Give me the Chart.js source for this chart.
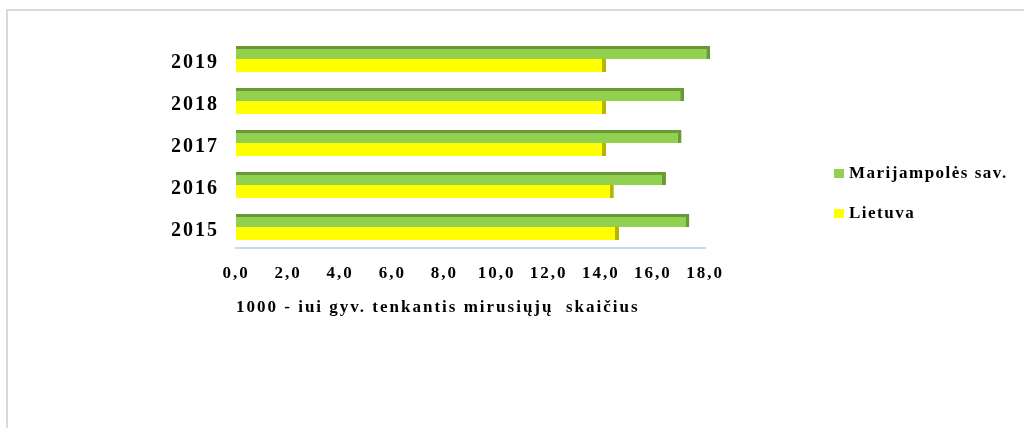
<!DOCTYPE html>
<html>
<head>
<meta charset="utf-8">
<script src="https://cdn.jsdelivr.net/npm/chart.js@4.4.1/dist/chart.umd.min.js"></script>
<style>
  html, body { margin: 0; padding: 0; background: #fff; }
  #wrap { position: relative; width: 1024px; height: 428px; overflow: hidden; }
  #frame { position: absolute; left: 6px; top: 9px; width: 1100px; height: 500px;
           border-top: 2px solid #d9d9d9; border-left: 2px solid #d9d9d9; }
  #chart { position: absolute; left: 0; top: 0; }
  #legend { position: absolute; left: 834px; top: 163px; font-family: 'Liberation Serif', 'Times New Roman', serif;
            font-weight: bold; font-size: 17px; letter-spacing: 1.5px; color: #000; }
  .item { position: relative; height: 20px; line-height: 20px; margin-bottom: 20px; white-space: nowrap; }
  .box { position: absolute; left: 0; top: 6px; width: 10px; height: 9px; }
  .lbl { position: absolute; left: 15px; top: 0; }
</style>
</head>
<body>
<div id="wrap">
  <div id="frame"></div>
  <canvas id="chart" width="1024" height="428"></canvas>
  <div id="legend"></div>
</div>
<script>
const years = ['2015', '2016', '2017', '2018', '2019'];
const marijampole = [17.4, 16.5, 17.1, 17.2, 18.2];
const lietuva = [14.7, 14.5, 14.2, 14.2, 14.2];
const xTickLabels = ['0,0', '2,0', '4,0', '6,0', '8,0', '10,0', '12,0', '14,0', '16,0', '18,0'];
const seriesNames = ['Marijampolės sav.', 'Lietuva'];
const xTitle = '1000 - iui gyv. tenkantis mirusiųjų  skaičius';

const FONT = "'Liberation Serif', 'Times New Roman', serif";

const spacingPlugin = {
  id: 'spacing',
  beforeLayout(chart) { chart.ctx.letterSpacing = '2px'; },
  beforeDraw(chart) { chart.ctx.letterSpacing = '2px'; }
};

const colors = [
  { bg: '#92D050', border: '#6A9A36' },
  { bg: '#FFFF00', border: '#B5B500' }
];

new Chart(document.getElementById('chart'), {
  type: 'bar',
  data: {
    labels: years,
    datasets: [
      {
        label: seriesNames[0], data: marijampole,
        backgroundColor: colors[0].bg, borderColor: colors[0].border,
        borderWidth: { top: 3, right: 4, bottom: 0, left: 0 }, borderSkipped: false, clip: false
      },
      {
        label: seriesNames[1], data: lietuva,
        backgroundColor: colors[1].bg, borderColor: colors[1].border,
        borderWidth: { top: 0, right: 4, bottom: 0, left: 0 }, borderSkipped: false, clip: false
      }
    ]
  },
  options: {
    indexAxis: 'y',
    responsive: false,
    animation: false,
    devicePixelRatio: 1,
    layout: { padding: { left: 172, right: 319, top: 38, bottom: 110 } },
    datasets: { bar: { categoryPercentage: 0.62, barPercentage: 1.0 } },
    plugins: { legend: { display: false }, tooltip: { enabled: false } },
    scales: {
      y: {
        reverse: true,
        grid: { display: false, drawTicks: false },
        border: { display: false },
        afterFit(scale) { scale.width = 64; },
        ticks: {
          color: '#000', padding: 17, labelOffset: 4,
          font: { family: FONT, size: 20, weight: 'bold' }
        }
      },
      x: {
        min: 0, max: 18,
        grid: { display: false, drawTicks: false },
        border: { display: true, color: '#C9DAEE', width: 2 },
        afterFit(scale) { scale.height = 70; },
        ticks: {
          stepSize: 2, autoSkip: false, maxRotation: 0, padding: 15, color: '#000',
          font: { family: FONT, size: 17, weight: 'bold' },
          callback: (v) => xTickLabels[Math.round(v / 2)]
        },
        title: {
          display: true, text: xTitle, align: 'start', color: '#000',
          font: { family: FONT, size: 17, weight: 'bold' },
          padding: { top: 0, bottom: 0 }
        }
      }
    }
  },
  plugins: [spacingPlugin]
});

const legend = document.getElementById('legend');
seriesNames.forEach((name, i) => {
  const item = document.createElement('div');
  item.className = 'item';
  const box = document.createElement('span');
  box.className = 'box';
  box.style.background = colors[i].bg;
  const lbl = document.createElement('span');
  lbl.className = 'lbl';
  lbl.textContent = name;
  item.appendChild(box);
  item.appendChild(lbl);
  legend.appendChild(item);
});
</script>
</body>
</html>
